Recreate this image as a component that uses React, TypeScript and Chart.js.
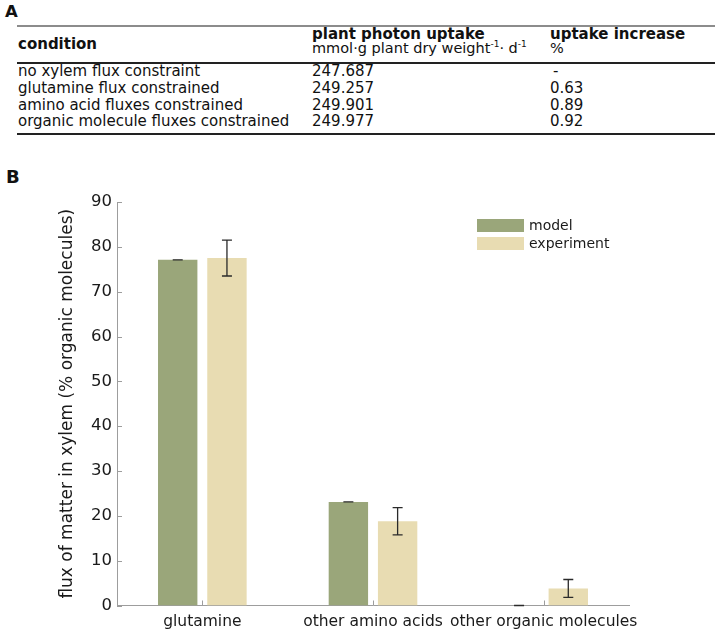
import React, { useEffect, useRef } from "react";
import { Chart, registerables } from "chart.js";

Chart.register(...registerables);

// ---- Table (panel A) data ----
const tableHeaders = ["condition", "plant photon uptake", "uptake increase"];
const conditions = [
  "no xylem flux constraint",
  "glutamine flux constrained",
  "amino acid fluxes constrained",
  "organic molecule fluxes constrained",
];
const photonUptake = ["247.687", "249.257", "249.901", "249.977"];
const uptakeIncrease = ["-", "0.63", "0.89", "0.92"];

// ---- Chart (panel B) data ----
const categories = ["glutamine", "other amino acids", "other organic molecules"];
const seriesNames = ["model", "experiment"];
const modelValues = [77.1, 23.1, 0];
const modelErrors = [0, 0, 0];
const experimentValues = [77.5, 18.8, 3.8];
const experimentErrors = [4.0, 3.05, 2.0];
const yMin = 0;
const yMax = 90;
const yStep = 10;
const yTitle = "flux of matter in xylem (% organic molecules)";

const FONT = '"DejaVu Sans", Verdana, sans-serif';
const MODEL_COLOR = "#9aa67a";
const EXP_COLOR = "#e8dcb2";
const AXIS_COLOR = "#9d9d9d";

const errorsByDataset = [modelErrors, experimentErrors];

const overlayPlugin = {
  id: "overlay",
  afterDatasetsDraw(chart: any) {
    const ctx = chart.ctx;
    const { left, bottom } = chart.chartArea;
    const ys = chart.scales.y;
    const xs = chart.scales.x;
    ctx.save();
    // inward tick marks
    ctx.strokeStyle = AXIS_COLOR;
    ctx.lineWidth = 1;
    ys.ticks.forEach((_t: any, i: number) => {
      const py = Math.round(ys.getPixelForTick(i)) + 0.5;
      ctx.beginPath();
      ctx.moveTo(left, py);
      ctx.lineTo(left + 5, py);
      ctx.stroke();
    });
    xs.ticks.forEach((_t: any, i: number) => {
      const px = Math.round(xs.getPixelForTick(i)) + 0.5;
      ctx.beginPath();
      ctx.moveTo(px, bottom);
      ctx.lineTo(px, bottom - 5);
      ctx.stroke();
    });
    // error bars
    ctx.strokeStyle = "#2a2a2a";
    ctx.lineWidth = 1.3;
    chart.data.datasets.forEach((ds: any, di: number) => {
      const meta = chart.getDatasetMeta(di);
      meta.data.forEach((bar: any, j: number) => {
        const v = ds.data[j];
        const e = errorsByDataset[di][j];
        const yT = ys.getPixelForValue(v + e);
        const yB = ys.getPixelForValue(v - e);
        const cx = bar.x;
        ctx.beginPath();
        ctx.moveTo(cx, yT);
        ctx.lineTo(cx, yB);
        ctx.moveTo(cx - 5, yT);
        ctx.lineTo(cx + 5, yT);
        ctx.moveTo(cx - 5, yB);
        ctx.lineTo(cx + 5, yB);
        ctx.stroke();
      });
    });
    // legend inside plot
    const lx = left + 360;
    let ly = chart.chartArea.top + 17;
    ctx.font = `14px ${FONT}`;
    ctx.textBaseline = "middle";
    ctx.textAlign = "left";
    chart.data.datasets.forEach((ds: any) => {
      ctx.fillStyle = ds.backgroundColor;
      ctx.fillRect(lx, ly, 47, 13);
      ctx.fillStyle = "#1a1a1a";
      ctx.fillText(ds.label, lx + 52, ly + 7);
      ly += 18;
    });
    ctx.restore();
  },
};

function Txt(props: { x: number; baseline: number; size: number; bold?: boolean; children: any }) {
  const { x, baseline, size, bold, children } = props;
  return (
    <div
      style={{
        position: "absolute",
        left: x,
        top: baseline - 0.846 * size,
        fontSize: size,
        lineHeight: `${size}px`,
        fontWeight: bold ? "bold" : "normal",
        whiteSpace: "nowrap",
        color: "#111",
      }}
    >
      {children}
    </div>
  );
}

const supStyle: React.CSSProperties = {
  fontSize: "0.62em",
  position: "relative",
  top: "-0.6em",
  lineHeight: 0,
  verticalAlign: "baseline",
};

export default function App() {
  const canvasRef = useRef<HTMLCanvasElement | null>(null);

  useEffect(() => {
    if (!canvasRef.current) return;
    const chart = new Chart(canvasRef.current, {
      type: "bar",
      data: {
        labels: categories,
        datasets: [
          {
            label: seriesNames[0],
            data: modelValues,
            backgroundColor: MODEL_COLOR,
            categoryPercentage: 0.577,
            barPercentage: 0.8,
          },
          {
            label: seriesNames[1],
            data: experimentValues,
            backgroundColor: EXP_COLOR,
            categoryPercentage: 0.577,
            barPercentage: 0.8,
          },
        ],
      },
      options: {
        responsive: false,
        maintainAspectRatio: false,
        devicePixelRatio: 1,
        animation: false,
        layout: { padding: { top: 47, right: 90, bottom: 0, left: 0 } },
        plugins: {
          legend: { display: false },
          tooltip: { enabled: false },
          title: { display: false },
        },
        scales: {
          x: {
            grid: { display: false, drawTicks: false },
            border: { display: true, color: AXIS_COLOR, width: 1 },
            ticks: {
              font: { family: FONT, size: 15.5 },
              color: "#1a1a1a",
              padding: 7.5,
              maxRotation: 0,
              autoSkip: false,
            },
            afterFit: (s: any) => {
              s.height = 27.5;
            },
          },
          y: {
            min: yMin,
            max: yMax,
            grid: { display: false, drawTicks: false },
            border: { display: true, color: AXIS_COLOR, width: 1 },
            ticks: {
              stepSize: yStep,
              font: { family: FONT, size: 16.5 },
              color: "#1a1a1a",
              padding: 5,
            },
            title: {
              display: true,
              text: yTitle,
              font: { family: FONT, size: 17 },
              color: "#1a1a1a",
              padding: { top: 57.3, bottom: 0 },
            },
            afterFit: (s: any) => {
              s.width = 117;
            },
          },
        },
      },
      plugins: [overlayPlugin],
    });
    return () => chart.destroy();
  }, []);

  const rowBaselines = [77, 93.7, 110.3, 127];
  const colX = [18, 312, 550];

  return (
    <div
      style={{
        position: "absolute",
        left: 0,
        top: 0,
        width: 719,
        height: 633,
        background: "#fff",
        fontFamily: FONT,
        overflow: "hidden",
      }}
    >
      <Txt x={5} baseline={17.5} size={16.5} bold>
        A
      </Txt>
      <div style={{ position: "absolute", left: 17, top: 25, width: 698, height: 2, background: "#8c8c8c" }} />
      <Txt x={colX[0]} baseline={50} size={15} bold>
        {tableHeaders[0]}
      </Txt>
      <Txt x={colX[1]} baseline={40} size={15} bold>
        {tableHeaders[1]}
      </Txt>
      <Txt x={colX[1]} baseline={53} size={14.5}>
        mmol·g plant dry weight<span style={supStyle}>-1</span>· d<span style={supStyle}>-1</span>
      </Txt>
      <Txt x={colX[2]} baseline={40} size={15} bold>
        {tableHeaders[2]}
      </Txt>
      <Txt x={colX[2]} baseline={53} size={14.5}>
        %
      </Txt>
      <div style={{ position: "absolute", left: 17, top: 62, width: 698, height: 2, background: "#222" }} />
      {conditions.map((c, i) => (
        <React.Fragment key={c}>
          <Txt x={colX[0]} baseline={rowBaselines[i]} size={15}>
            {c}
          </Txt>
          <Txt x={colX[1]} baseline={rowBaselines[i]} size={15}>
            {photonUptake[i]}
          </Txt>
          <Txt x={colX[2] + (uptakeIncrease[i] === "-" ? 3 : 0)} baseline={rowBaselines[i]} size={15}>
            {uptakeIncrease[i]}
          </Txt>
        </React.Fragment>
      ))}
      <div style={{ position: "absolute", left: 17, top: 133, width: 698, height: 2, background: "#222" }} />
      <Txt x={6} baseline={183} size={18} bold>
        B
      </Txt>
      <canvas
        ref={canvasRef}
        width={719}
        height={478}
        style={{ position: "absolute", left: 0, top: 155, width: 719, height: 478, display: "block" }}
      />
    </div>
  );
}
